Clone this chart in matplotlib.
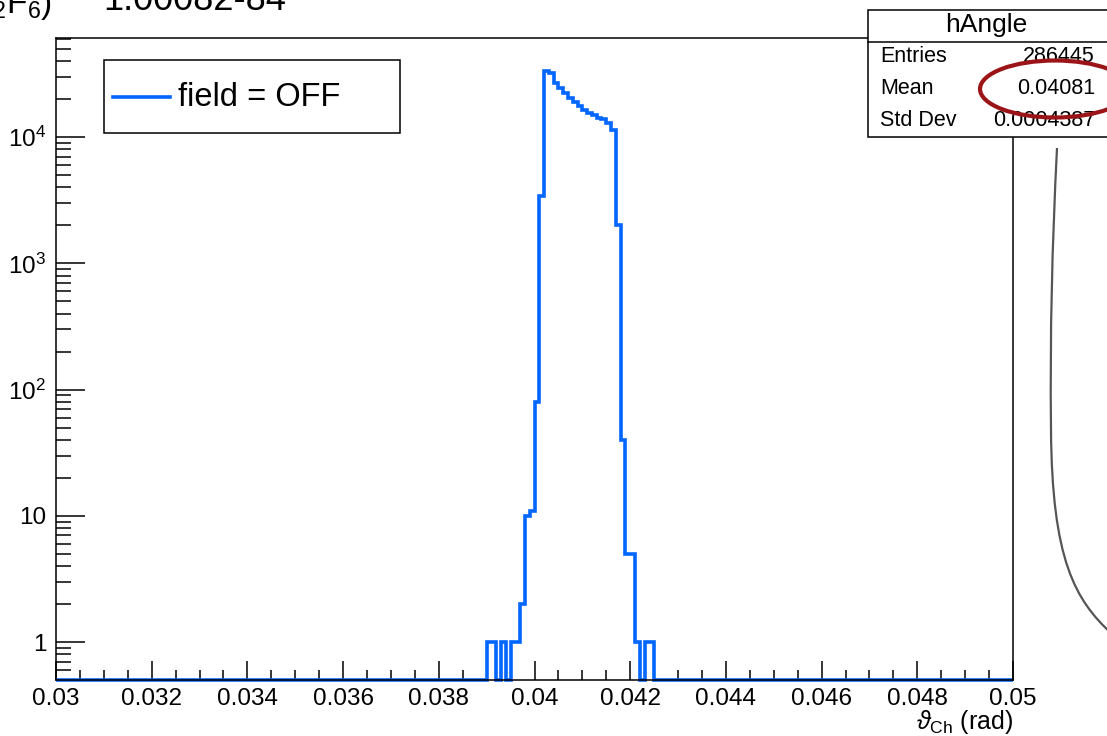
import numpy as np
import matplotlib
matplotlib.use("Agg")
import matplotlib.pyplot as plt
import matplotlib.patches as patches
from matplotlib.lines import Line2D
from matplotlib.path import Path
from matplotlib.ticker import FixedLocator, MultipleLocator, LogLocator, NullFormatter

plt.rcParams["font.family"] = ["Liberation Sans", "DejaVu Sans"]
plt.rcParams["mathtext.fontset"] = "custom"
plt.rcParams["mathtext.rm"] = "Liberation Sans"
plt.rcParams["mathtext.it"] = "Liberation Sans:italic"

# histogram hAngle: 200 bins of 0.0001 between 0.03 and 0.05
x_min, x_max, n_bins = 0.03, 0.05, 200
# non-empty region starts at 0.0390, one value per bin
region_start = 0.0390
region_counts = [1, 1, 0, 1, 0, 1, 1, 2, 10, 11, 80, 3400,
                 33600, 32000, 27000, 24300, 22200, 20600, 19100, 17800,
                 16500, 15600, 15000, 14300, 13800, 13000, 11400,
                 2000, 40, 5, 5, 1, 0, 1, 1]
legend_label = "field = OFF"

stats_title = "hAngle"
stats_names = ["Entries", "Mean", "Std Dev"]
stats_values = ["286445", "0.04081", "0.0004387"]

y_ticks = [1, 10, 100, 1000, 10000]
y_labels = ["1", "10", r"$10^{2}$", r"$10^{3}$", r"$10^{4}$"]
x_ticks = [0.03, 0.032, 0.034, 0.036, 0.038, 0.04, 0.042, 0.044, 0.046, 0.048, 0.05]
x_labels = ["0.03", "0.032", "0.034", "0.036", "0.038", "0.04", "0.042",
            "0.044", "0.046", "0.048", "0.05"]

W, H = 1107, 736
BLUE = "#0066ff"
y_lo, y_hi = 0.5, 6.1e4

edges = np.linspace(x_min, x_max, n_bins + 1)
counts = np.zeros(n_bins)
i0 = int(round((region_start - x_min) / 0.0001))
counts[i0:i0 + len(region_counts)] = region_counts


def fx(x):
    return x / W


def fy(y):
    return 1 - y / H


fig = plt.figure(figsize=(W / 100, H / 100), dpi=100)
ax = fig.add_axes([fx(56), 56 / H, 957 / W, 642 / H])

# empty bins drawn on the bottom edge, as ROOT does
ax.stairs(np.maximum(counts, y_lo), edges, baseline=None, color=BLUE,
          lw=2.6, clip_on=False, zorder=2)

ax.set_yscale("log")
ax.set_xlim(x_min, x_max)
ax.set_ylim(y_lo, y_hi)

ax.yaxis.set_major_locator(FixedLocator(y_ticks))
ax.set_yticklabels(y_labels)
ax.yaxis.set_minor_locator(LogLocator(base=10, subs=np.arange(2, 10), numticks=20))
ax.yaxis.set_minor_formatter(NullFormatter())
ax.set_xticks(x_ticks)
ax.set_xticklabels(x_labels)
ax.xaxis.set_minor_locator(MultipleLocator(0.0005))

ax.tick_params(axis="both", which="both", direction="in", color="black",
               labelsize=17.5, top=False, right=False)
ax.tick_params(axis="y", which="major", length=20.7, width=1.1, pad=7)
ax.tick_params(axis="y", which="minor", length=10.5, width=1.1)
ax.tick_params(axis="x", which="major", length=14, width=1.1, pad=6)
ax.tick_params(axis="x", which="minor", length=7, width=1.1)
for s in ax.spines.values():
    s.set_linewidth(1.1)
    s.set_zorder(3)

ax.text(1.0, -0.066, r"$\vartheta_{\mathrm{Ch}}$ (rad)", transform=ax.transAxes,
        ha="right", va="center", fontsize=18)

# legend box
leg = patches.Rectangle((fx(104), fy(133)), 296 / W, 73 / H, transform=fig.transFigure,
                        fc="white", ec="black", lw=1.1, zorder=5)
fig.add_artist(leg)
fig.add_artist(Line2D([fx(113), fx(170)], [fy(97), fy(97)], transform=fig.transFigure,
                      color=BLUE, lw=2.6, zorder=6))
fig.text(fx(178), fy(97), legend_label, ha="left", va="center", fontsize=23.5, zorder=6)

# stats box
box = patches.Rectangle((fx(868), fy(137)), (1120 - 868) / W, 127 / H,
                        transform=fig.transFigure, fc="white", ec="black", lw=1.1, zorder=10)
fig.add_artist(box)
fig.add_artist(Line2D([fx(868), fx(1120)], [fy(42), fy(42)], transform=fig.transFigure,
                      color="black", lw=1.1, zorder=11))
fig.text(fx(986), fy(25), stats_title, ha="center", va="center", fontsize=19, zorder=11)
for k, (name, val) in enumerate(zip(stats_names, stats_values)):
    yy = 57 + 32 * k
    fig.text(fx(880), fy(yy), name, ha="left", va="center", fontsize=15.5, zorder=11)
    fig.text(fx(1095), fy(yy), val, ha="right", va="center", fontsize=15.5, zorder=11)

# hand-drawn annotations on the slide
fig.add_artist(patches.Ellipse((fx(1055), fy(89)), 150 / W, 57 / H, transform=fig.transFigure,
                               fill=False, ec="#9b1518", lw=3, zorder=12))
verts = [(1057, 148), (1052, 250), (1050, 330), (1051, 430),
         (1052, 560), (1075, 600), (1112, 634)]
verts = [(fx(a), fy(b)) for a, b in verts]
codes = [Path.MOVETO] + [Path.CURVE4] * 6
fig.add_artist(patches.PathPatch(Path(verts, codes), transform=fig.transFigure,
                                 fill=False, ec="#555555", lw=1.6, zorder=12))

# text cut off at the top of the slide
fig.text(fx(52), fy(13), r"C$_{2}$F$_{6}$)", ha="right", va="baseline", fontsize=24)
fig.text(fx(103), fy(10), "1.00082-84", ha="left", va="baseline", fontsize=26)

fig.savefig("out.png", dpi=100)
